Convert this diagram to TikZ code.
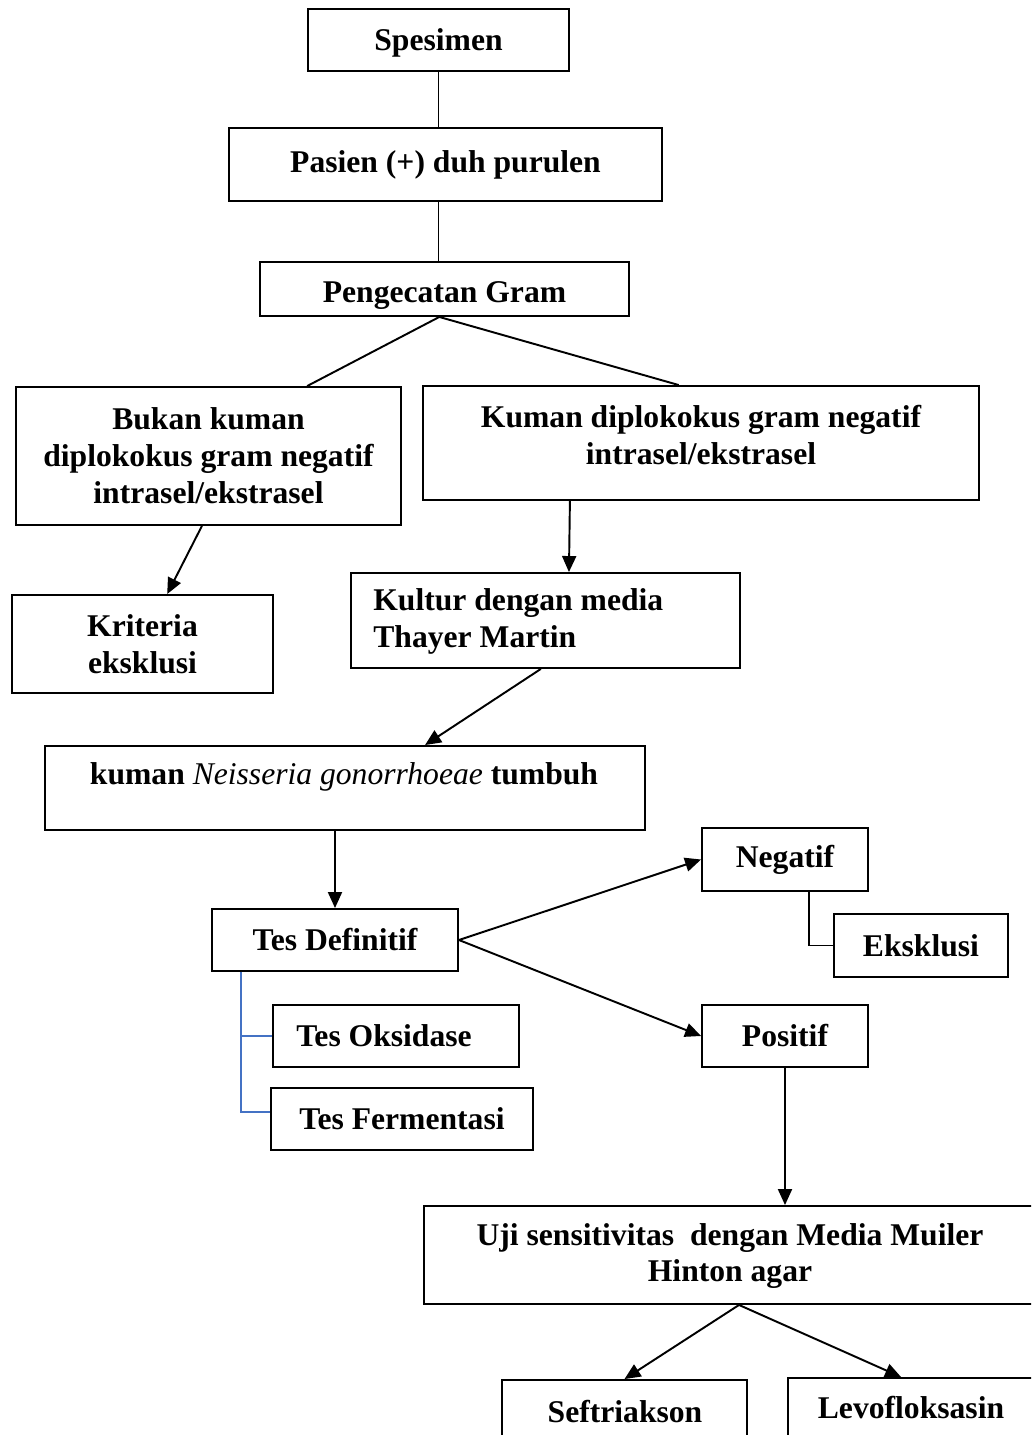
\documentclass[tikz,border=0pt]{standalone}
\usepackage{fontspec}
\setmainfont{Liberation Serif}
\usepackage{tikz}
\usetikzlibrary{arrows.meta,positioning,calc}
\definecolor{lnblue}{RGB}{68,114,196}
\tikzstyle{box} = [rectangle, draw=black, line width=1.1pt, inner sep=0pt, font=\fontsize{18}{21}\selectfont\bfseries, align=center]
\tikzstyle{txt} = [inner sep=0pt, font=\fontsize{18}{21}\selectfont\bfseries, align=center]
\tikzstyle{line} = [line width=1.1pt]
\tikzstyle{arrow} = [line width=1.1pt, -{Triangle[length=0.32cm,width=0.28cm]}]
\tikzstyle{branch} = [line width=1.1pt, color=lnblue]

\begin{document}
\begin{tikzpicture}[x=0.02cm, y=-0.02cm]
\useasboundingbox (0,0) rectangle (1031,1435);
\clip (0,0) rectangle (1031,1435);

% Top chain
\node[box, minimum width=5.22cm, minimum height=1.24cm] (spes) at (438.5,40) {};
\node[txt] (spestxt) at (438.5,43) {Spesimen};
\node[box, minimum width=8.66cm, minimum height=1.46cm] (pasien) at (445.5,164.5) {Pasien (+) duh purulen};
\node[box, minimum width=7.38cm, minimum height=1.08cm] (gram) at (444.5,289) {};
\node[txt] (gramtxt) at (444.5,296) {Pengecatan Gram};

% Gram result
\node[box, minimum width=7.7cm, minimum height=2.76cm] (bukan) at (208.5,456) {Bukan kuman\\diplokokus gram negatif\\intrasel/ekstrasel};
\node[box, minimum width=11.12cm, minimum height=2.28cm] (kuman) at (701,443) {};
\node[txt] (kumantxt) at (701,435) {Kuman diplokokus gram negatif\\intrasel/ekstrasel};
\node[box, minimum width=5.22cm, minimum height=1.96cm] (krit) at (142.5,644) {Kriteria\\eksklusi};

% Culture
\node[box, minimum width=7.78cm, minimum height=1.9cm] (kultur) at (545.5,620.5) {};
\node[txt, anchor=west, align=left] (kulturtxt) at (373,621) {Kultur dengan media\\Thayer Martin};
\node[box, minimum width=12cm, minimum height=1.68cm] (neis) at (345,788) {};
\node[txt] (neistxt) at (344,777) {kuman {\mdseries\itshape Neisseria gonorrhoeae} tumbuh};

% Definitive tests
\node[box, minimum width=4.92cm, minimum height=1.24cm] (tesdef) at (335,940) {Tes Definitif};
\node[box, minimum width=4.92cm, minimum height=1.24cm] (oks) at (396,1036) {};
\node[txt] (okstxt) at (384,1036) {Tes Oksidase};
\node[box, minimum width=5.24cm, minimum height=1.24cm] (ferm) at (402,1119) {Tes Fermentasi};
\node[box, minimum width=3.32cm, minimum height=1.26cm] (neg) at (785,859.5) {Negatif};
\node[box, minimum width=3.48cm, minimum height=1.26cm] (eks) at (921,945.5) {Eksklusi};
\node[box, minimum width=3.32cm, minimum height=1.24cm] (pos) at (785,1036) {Positif};

% Sensitivity
\node[box, minimum width=12.6cm, minimum height=1.96cm] (uji) at (739,1255) {};
\node[txt] (ujitxt) at (730,1256) {Uji sensitivitas\ \ dengan Media Muiler\\Hinton agar};
\node[box, minimum width=4.9cm, minimum height=1.4cm] (seft) at (624.5,1415) {};
\node[txt] (sefttxt) at (625,1412) {Seftriakson};
\node[box, minimum width=4.92cm, minimum height=1.44cm] (levo) at (911,1414) {};
\node[txt] (levotxt) at (911,1408) {Levofloksasin};

% Connectors
\draw[line] (spes.south) -- (spes.south |- pasien.north);
\draw[line] (spes.south |- pasien.south) -- (spes.south |- gram.north);
\draw[line] ($(gram.south west)!0.486!(gram.south east)$) -- ($(bukan.north west)!0.755!(bukan.north east)$);
\draw[line] ($(gram.south west)!0.486!(gram.south east)$) -- ($(kuman.north west)!0.46!(kuman.north east)$);
\draw[arrow] ($(bukan.south west)!0.483!(bukan.south east)$) -- ($(krit.north west)!0.594!(krit.north east)$);
\draw[arrow] ($(kuman.south west)!0.265!(kuman.south east)$) -- ($(kultur.north west)!0.56!(kultur.north east)$);
\draw[arrow] ($(kultur.south west)!0.488!(kultur.south east)$) -- ($(neis.north west)!0.633!(neis.north east)$);
\draw[arrow] (tesdef.north |- neis.south) -- (tesdef.north);
\draw[arrow] (tesdef.east) -- (neg.west);
\draw[arrow] (tesdef.east) -- (pos.west);
\draw[line] ($(neg.south west)!0.645!(neg.south east)$) |- (eks.west);
\draw[branch] ($(tesdef.south west)!0.122!(tesdef.south east)$) |- (oks.west);
\draw[branch] ($(tesdef.south west)!0.122!(tesdef.south east)$) |- ([yshift=0.14cm]ferm.west);
\draw[arrow] (pos.south) -- (pos.south |- uji.north);
\draw[arrow] (uji.south) -- (seft.north);
\draw[arrow] (uji.south) -- ($(levo.north west)!0.46!(levo.north east)$);
\end{tikzpicture}
\end{document}
